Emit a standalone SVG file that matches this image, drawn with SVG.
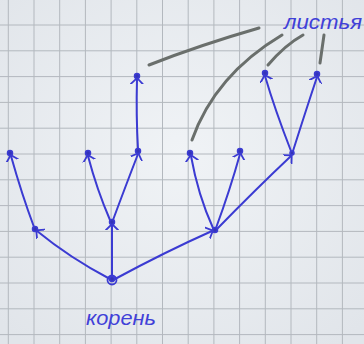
<svg xmlns="http://www.w3.org/2000/svg" width="364" height="344" viewBox="0 0 364 344">
<defs>
<style>
.grid{stroke:#b3b8be;stroke-width:1;fill:none}
.edge{stroke:#3b3bd2;stroke-width:2;fill:none;stroke-linecap:round;marker-end:url(#ah)}
.node{fill:#3434b8;stroke:#3b3bd2;stroke-width:1.5}
.ptr{stroke:#6a6f6c;stroke-width:3;fill:none;stroke-linecap:round}
.lbl{font-family:"Liberation Sans","DejaVu Sans",sans-serif;font-style:italic;fill:#4040d8;font-size:20px}
</style>
<marker id="ah" viewBox="0 0 14 14" refX="5" refY="7" markerWidth="14" markerHeight="14" markerUnits="userSpaceOnUse" orient="auto">
<path d="M0,1 L6,7 L0,13" fill="none" stroke="#3b3bd2" stroke-width="1.8" stroke-linecap="round"/>
</marker>
<radialGradient id="bg" cx="50%" cy="45%" r="70%">
<stop offset="0" stop-color="#f0f3f6"/>
<stop offset="1" stop-color="#e1e5ea"/>
</radialGradient>
</defs>
<rect width="364" height="344" fill="url(#bg)"/>
<g id="grid" class="grid">
<path d="M8.3,0V344M34,0V344M59.7,0V344M85.4,0V344M111.1,0V344M136.8,0V344M162.5,0V344M188.2,0V344M213.9,0V344M239.6,0V344M265.3,0V344M291,0V344M316.7,0V344M342.4,0V344"/>
<path d="M0,25H364M0,50.8H364M0,76.6H364M0,102.4H364M0,128.2H364M0,154H364M0,179.8H364M0,205.6H364M0,231.4H364M0,257.2H364M0,283H364M0,308.8H364M0,334.6H364"/>
</g>
<g id="connectors">
<path class="edge" d="M110,279 Q70,258 37,231"/>
<path class="edge" d="M112,277 L112,225"/>
<path class="edge" d="M115,279 Q165,252 212,231"/>
<path class="edge" d="M34,227 Q22,195 11,156"/>
<path class="edge" d="M110,220 Q97,190 88,156"/>
<path class="edge" d="M113,220 Q126,185 138,154"/>
<path class="edge" d="M138,149 Q136,115 137,79"/>
<path class="edge" d="M213,228 Q198,195 191,156"/>
<path class="edge" d="M216,228 Q230,190 240,154"/>
<path class="edge" d="M217,229 Q255,190 291,156"/>
<path class="edge" d="M291,151 Q275,110 265,76"/>
<path class="edge" d="M293,151 Q306,110 317,77"/>
<path class="ptr" d="M149,65 Q200,45 259,28"/>
<path class="ptr" d="M192,140 Q215,75 282,35"/>
<path class="ptr" d="M268,65 Q285,45 303,35"/>
<path class="ptr" d="M320,63 L324,35"/>
</g>
<g id="root"><circle cx="112" cy="280" r="4.5" fill="none" stroke="#3b3bd2" stroke-width="1.8"/><circle class="node" cx="112" cy="279" r="2.5"/></g>
<g id="n1"><circle class="node" cx="35" cy="229" r="2.5"/></g>
<g id="n2"><circle class="node" cx="112" cy="222" r="2.5"/></g>
<g id="n3"><circle class="node" cx="215" cy="230" r="2.5"/></g>
<g id="n4"><circle class="node" cx="10" cy="153" r="2.5"/></g>
<g id="n5"><circle class="node" cx="88" cy="153" r="2.5"/></g>
<g id="n6"><circle class="node" cx="138" cy="151" r="2.5"/></g>
<g id="n7"><circle class="node" cx="137" cy="76" r="2.5"/></g>
<g id="n8"><circle class="node" cx="190" cy="153" r="2.5"/></g>
<g id="n9"><circle class="node" cx="240" cy="151" r="2.5"/></g>
<g id="n10"><circle class="node" cx="292" cy="153" r="2"/></g>
<g id="n11"><circle class="node" cx="265" cy="73" r="2.5"/></g>
<g id="n12"><circle class="node" cx="317" cy="74" r="2.5"/></g>
<g id="label-leaves"><text class="lbl" x="284" y="29" textLength="78" lengthAdjust="spacingAndGlyphs">листья</text></g>
<g id="label-root"><text class="lbl" x="86" y="325" textLength="70" lengthAdjust="spacingAndGlyphs">корень</text></g>
</svg>
